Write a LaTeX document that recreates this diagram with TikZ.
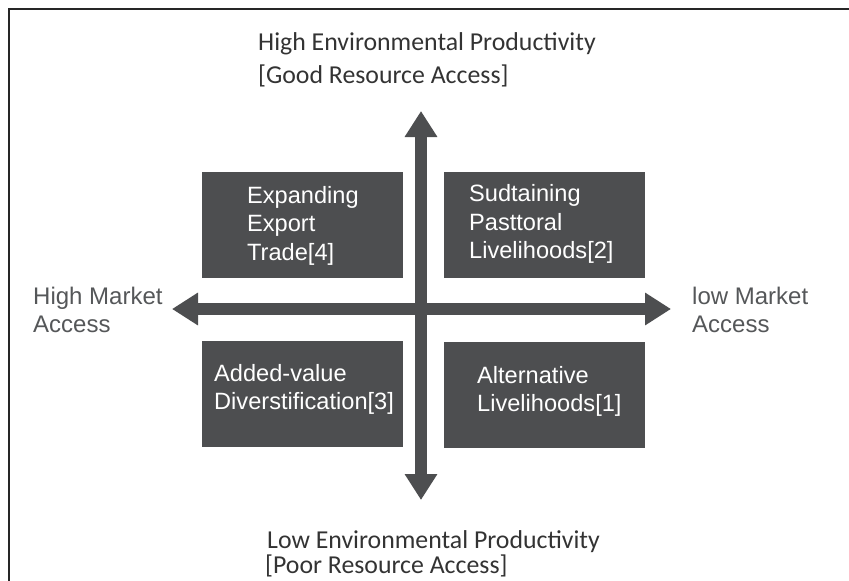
\documentclass[tikz,border=0pt]{standalone}
\usepackage{fontspec}
\setmainfont{Liberation Sans}
\newfontfamily\calib{Carlito}
\usepackage{tikz}
\usetikzlibrary{arrows.meta}
\definecolor{darkbox}{HTML}{4D4E50}
\definecolor{labelgray}{HTML}{555759}
\tikzset{
quad/.style={fill=darkbox, minimum width=201pt, minimum height=106pt, inner sep=0pt}, % the four dark boxes
quadtext/.style={text=white, anchor=west, align=left, inner sep=0pt, font=\fontsize{23.6}{28.5}\selectfont}, % text inside the boxes
axislabel/.style={text=labelgray, anchor=west, align=left, inner sep=0pt, font=\fontsize{24}{28}\selectfont}, % market access labels
prodlabel/.style={text=black!80, anchor=base west, inner sep=0pt, font=\calib\fontsize{25.8}{31}\selectfont}, % productivity labels
axis/.style={draw=darkbox, line width=12pt, {Triangle[length=26pt,width=31pt]}-{Triangle[length=26pt,width=31pt]}}, % the two axes
}
\begin{document}
\begin{tikzpicture}[x=1pt,y=-1pt]
		\useasboundingbox (0,0) rectangle (849,581);
		% frame
		\coordinate (fbl) at (9,581);
		\coordinate (ftl) at (9,9);
		\coordinate (ftr) at (849,9);
		\draw[line width=1.5pt, black!85] (fbl) -- (ftl) -- (ftr);

		% axes
		\coordinate (west) at (172,309);
		\coordinate (east) at (671,309);
		\coordinate (north) at (421,111);
		\coordinate (south) at (421,500);
		\draw[axis] (west) -- (east);
		\draw[axis] (north) -- (south);

		% boxes
		\node[quad] (tl) at (302.5,225) {};
		\node[quad] (tr) at (544,224.5) {};
		\node[quad] (bl) at (302,393.5) {};
		\node[quad] (br) at (544,394.5) {};
		\node[quadtext] (tltext) at (247,225.6) {Expanding\\Export\\Trade[4]};
		\node[quadtext] (trtext) at (469,224) {Sudtaining\\Pasttoral\\Livelihoods[2]};
		\node[quadtext] (bltext) at (214,389.5) {Added-value\\Diverstification[3]};
		\node[quadtext] (brtext) at (477,391.5) {Alternative\\Livelihoods[1]};

		% labels
		\node[axislabel] (high) at (33,310) {High Market\\Access};
		\node[axislabel] (low) at (692,310) {low Market\\Access};
		\node[prodlabel] (top1) at (258,50) {High Environmental Productivity};
		\node[prodlabel] (top2) at (258,83) {[Good Resource Access]};
		\node[prodlabel] (bot1) at (267,548) {Low Environmental Productivity};
		\node[prodlabel] (bot2) at (265,573.5) {[Poor Resource Access]};
	\end{tikzpicture}
\end{document}
